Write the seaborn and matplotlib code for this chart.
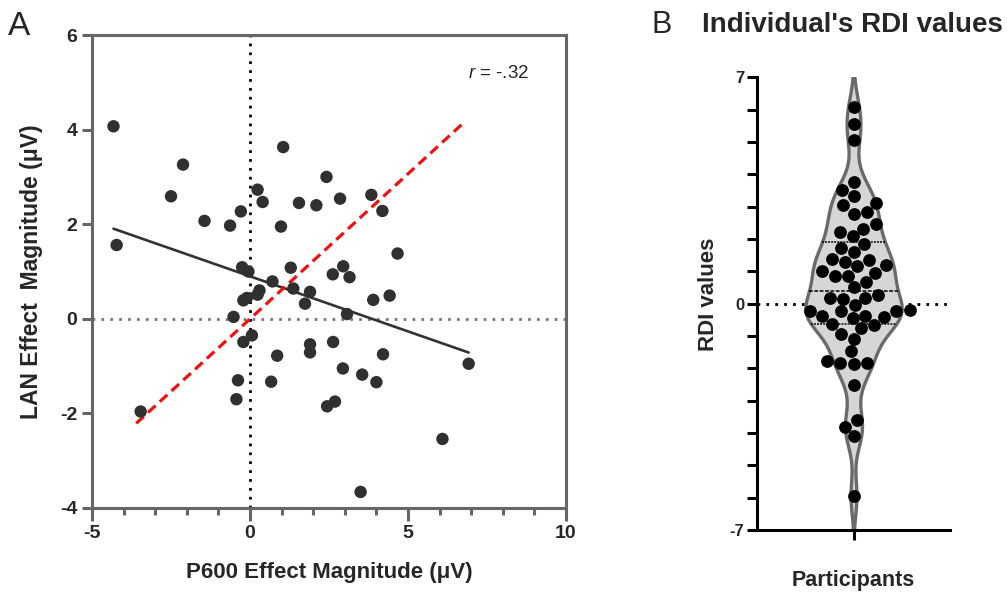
import numpy as np
import pandas as pd
import seaborn as sns
import matplotlib
matplotlib.use("Agg")
import matplotlib.pyplot as plt
from matplotlib.ticker import MultipleLocator, FixedLocator

# ---------------- data ----------------
p600 = [-4.32, 1.05, -2.12, 2.42, -2.50, 0.24, 0.40, 1.55, 2.10, -0.29,
        -1.44, -0.63, 0.98, -4.22, -0.25, -0.05, 1.29, 2.62, 2.85, 3.84,
        4.19, 4.67, 2.95, 3.15, 0.71, 1.37, 1.90, 1.74, 0.30, 0.24,
        -0.10, -0.21, -0.52, 0.06, -0.21, 0.86, 1.90, 1.90, 2.63, -0.38,
        0.67, -0.43, 2.44, -3.46, 3.90, 4.42, 3.07, 4.21, 2.94, 3.55,
        4.00, 2.69, 6.92, 6.09, 3.50]
lan = [4.07, 3.63, 3.26, 3.00, 2.59, 2.73, 2.47, 2.45, 2.40, 2.27,
       2.07, 1.97, 1.95, 1.56, 1.09, 1.00, 1.08, 0.94, 2.54, 2.62,
       2.28, 1.38, 1.11, 0.88, 0.79, 0.64, 0.57, 0.32, 0.60, 0.51,
       0.44, 0.39, 0.04, -0.35, -0.49, -0.78, -0.54, -0.71, -0.49, -1.30,
       -1.33, -1.70, -1.85, -1.96, 0.40, 0.49, 0.10, -0.75, -1.05, -1.18,
       -1.34, -1.75, -0.95, -2.54, -3.66]
ref_x = [-3.60, 6.72]
ref_y = [-2.21, 4.12]
r_text = "-.32"

rdi = [6.09, 5.56, 5.07, 3.76, 3.52, 3.34, 3.12, 3.04, 2.82, 2.78,
       2.46, 2.32, 2.21, 2.08, 1.86, 1.72, 1.61, 1.38, 1.34, 1.30,
       1.18, 1.15, 1.00, 0.95, 0.87, 0.86, 0.66, 0.50, 0.28, 0.19,
       0.19, 0.15, -0.05, -0.19, -0.22, -0.24, -0.24, -0.37, -0.39, -0.41,
       -0.44, -0.63, -0.67, -0.75, -0.93, -1.08, -1.47, -1.78, -1.82, -1.84,
       -1.86, -2.51, -3.61, -3.80, -4.10, -5.95]

xA_ticks = [-5, 0, 5, 10]
yA_ticks = [-4, -2, 0, 2, 4, 6]
yB_ticks = [-7, 0, 7]

# ---------------- style ----------------
sns.set_theme(style="white")
plt.rcParams["font.family"] = ["Liberation Sans", "DejaVu Sans"]
plt.rcParams["axes.unicode_minus"] = False
plt.rcParams["mathtext.fontset"] = "custom"
plt.rcParams["mathtext.it"] = "Liberation Sans:italic"
plt.rcParams["mathtext.rm"] = "Liberation Sans"

W, H = 1007, 593
fig = plt.figure(figsize=(W / 100, H / 100), dpi=100)
axA = fig.add_axes([92 / W, 1 - 508 / H, (566 - 92) / W, (508 - 35) / H])
axB = fig.add_axes([757 / W, 1 - 530 / H, (950 - 757) / W, (530 - 77.3) / H])

# ---------------- panel A ----------------
grey = "#666666"
axA.axvline(0, color="black", lw=2.0, linestyle=(0, (1, 2.2)), zorder=1)
axA.axhline(0, color="#777777", lw=2.0, linestyle=(0, (1, 2.2)), zorder=1)
sns.regplot(x=np.array(p600), y=np.array(lan), scatter=False, ci=None, truncate=True,
            line_kws=dict(color="#333333", lw=1.9, zorder=2), ax=axA)
sns.lineplot(x=ref_x, y=ref_y, color="#ee1111", lw=2.3,
             linestyle=(0, (3.2, 1.8)), ax=axA, zorder=2)
sns.scatterplot(x=p600, y=lan, color="#303030", s=80, edgecolor="none",
                ax=axA, zorder=3)

axA.set_xlim(-5, 10)
axA.set_ylim(-4, 6)
axA.xaxis.set_major_locator(FixedLocator(xA_ticks))
axA.xaxis.set_minor_locator(MultipleLocator(1))
axA.yaxis.set_major_locator(FixedLocator(yA_ticks))
for s in axA.spines.values():
    s.set_color(grey)
    s.set_linewidth(2.2)
axA.tick_params(axis="y", which="major", direction="out", length=7.5,
                width=2.2, color=grey, labelsize=14, pad=3, left=True)
axA.tick_params(axis="x", which="major", direction="out", length=9.5,
                width=2.2, color=grey, labelsize=14, pad=3, bottom=True)
axA.tick_params(axis="x", which="minor", direction="out", length=5,
                width=2.2, color=grey, bottom=True)
for lab in axA.get_xticklabels() + axA.get_yticklabels():
    lab.set_fontweight("bold")
axA.set_xlabel("P600 Effect Magnitude (μV)", fontsize=16, fontweight="bold", labelpad=14)
axA.set_ylabel("LAN Effect  Magnitude (μV)", fontsize=16.5, fontweight="bold", labelpad=12)
axA.text(7.87, 5.18, r"$r$ = " + r_text, fontsize=13.5, ha="center", va="center")

# ---------------- panel B ----------------
axB.axhline(0, color="black", lw=2.0, linestyle=(0, (1, 2.2)), zorder=0)
sns.violinplot(y=rdi, ax=axB, color="#d6d6d6", linecolor="#6a6a6a", linewidth=2.4,
               width=0.5, inner="quart", bw_adjust=0.55, cut=3,
               inner_kws=dict(color="black", linewidth=1.1))
sns.swarmplot(y=rdi, ax=axB, color="black", size=9.2, zorder=3)

axB.set_ylim(-7, 7)
axB.set_xlim(-0.5, 0.5)
axB.set_xticks([0])
axB.set_xticklabels([""])
axB.yaxis.set_major_locator(FixedLocator(yB_ticks))
axB.yaxis.set_minor_locator(MultipleLocator(1))
sns.despine(ax=axB)
for side in ["left", "bottom"]:
    axB.spines[side].set_color("black")
    axB.spines[side].set_linewidth(2.2)
axB.tick_params(axis="both", which="major", direction="out", length=7,
                width=2.2, color="black", labelsize=12, pad=2)
axB.tick_params(axis="y", which="minor", direction="out", length=7,
                width=2.2, color="black", left=True)
axB.tick_params(bottom=True, left=True)
for lab in axB.get_yticklabels():
    lab.set_fontweight("bold")
axB.set_xlabel("Participants", fontsize=15.5, fontweight="bold", labelpad=20)
axB.set_ylabel("RDI values", fontsize=16, fontweight="bold", labelpad=8)
axB.yaxis.label.set_y(0.52)

# ---------------- titles / panel letters ----------------
fig.text(852 / W, 1 - 32 / H, "Individual's RDI values", fontsize=20,
         fontweight="bold", ha="center", va="baseline")
fig.text(8 / W, 1 - 35 / H, "A", fontsize=24, ha="left", va="baseline")
fig.text(651 / W, 1 - 33 / H, "B", fontsize=22, ha="left", va="baseline")

fig.savefig("out.png", dpi=100)
